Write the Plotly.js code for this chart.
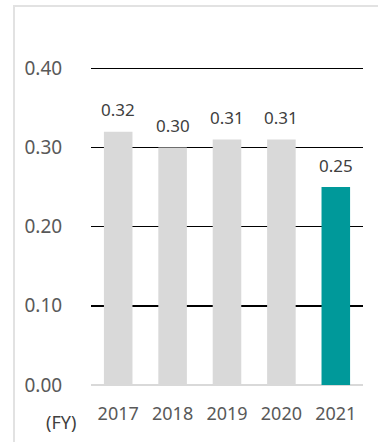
<!DOCTYPE html>
<html>
<head>
<meta charset="utf-8">
<script src="https://cdn.plot.ly/plotly-3.0.1.min.js"></script>
<style>
  html, body { margin: 0; padding: 0; background: #ffffff; }
  #wrap { position: relative; width: 378px; height: 442px; overflow: hidden; }
  #chart { position: absolute; left: 0; top: 0; width: 378px; height: 442px; }
  #frame {
    position: absolute; left: 13px; top: 5px; right: 0; bottom: 0;
    border-top: 2px solid #e2e2e2; border-left: 2px solid #e2e2e2;
    pointer-events: none;
  }
</style>
</head>
<body>
<div id="wrap">
  <div id="chart"></div>
  <div id="frame"></div>
</div>
<script>
// Fiscal years and the ratio for each year
const years = ['2017', '2018', '2019', '2020', '2021'];
const values = [0.32, 0.30, 0.31, 0.31, 0.25];
const yTicks = [0, 0.1, 0.2, 0.3, 0.4];
const yTickLabels = ['0.00', '0.10', '0.20', '0.30', '0.40'];
const highlightYear = '2021';
const unitLabel = '(FY)';

const FONT = '"Noto Sans", "DejaVu Sans", sans-serif';
const GREY = '#d9d9d9';
const TEAL = '#00999a';

const barColors = years.map(y => (y === highlightYear ? TEAL : GREY));
const xIndex = years.map((y, i) => i);

const trace = {
  type: 'bar',
  x: xIndex,
  y: values,
  width: 0.525,
  marker: { color: barColors },
  hoverinfo: 'none'
};

// value labels sitting above each bar
const valueLabels = xIndex.map((xi, i) => ({
  x: xi,
  y: values[i],
  xref: 'x',
  yref: 'y',
  text: values[i].toFixed(2),
  showarrow: false,
  yanchor: 'middle',
  xanchor: 'center',
  yshift: 22,
  font: { family: FONT, size: 17, color: '#404040' }
}));

const unitAnnotation = {
  xref: 'paper',
  yref: 'paper',
  x: -0.11,
  y: -0.117,
  text: unitLabel,
  showarrow: false,
  xanchor: 'center',
  yanchor: 'middle',
  font: { family: FONT, size: 18, color: '#404040' }
};

const layout = {
  width: 378,
  height: 442,
  margin: { l: 91, r: 15, t: 66, b: 57, pad: 0 },
  paper_bgcolor: 'rgba(0,0,0,0)',
  plot_bgcolor: 'rgba(0,0,0,0)',
  showlegend: false,
  xaxis: {
    range: [-0.5, 4.5],
    tickvals: xIndex,
    ticktext: years,
    showgrid: false,
    showline: false,
    zeroline: false,
    ticks: 'outside',
    ticklen: 12,
    tickcolor: 'rgba(0,0,0,0)',
    tickfont: { family: FONT, size: 18, color: '#595959' },
    fixedrange: true
  },
  yaxis: {
    // a hair above 0.40 so the top gridline is still drawn
    range: [0, 0.403],
    tickvals: yTicks,
    ticktext: yTickLabels,
    showgrid: true,
    gridcolor: '#000000',
    gridwidth: 1.4,
    zeroline: true,
    zerolinecolor: GREY,
    zerolinewidth: 1.4,
    showline: false,
    ticks: 'outside',
    ticklen: 24,
    tickcolor: 'rgba(0,0,0,0)',
    tickfont: { family: FONT, size: 19, color: '#595959' },
    fixedrange: true
  },
  annotations: valueLabels.concat([unitAnnotation])
};

Plotly.newPlot('chart', [trace], layout, { displayModeBar: false, staticPlot: true });
</script>
</body>
</html>
